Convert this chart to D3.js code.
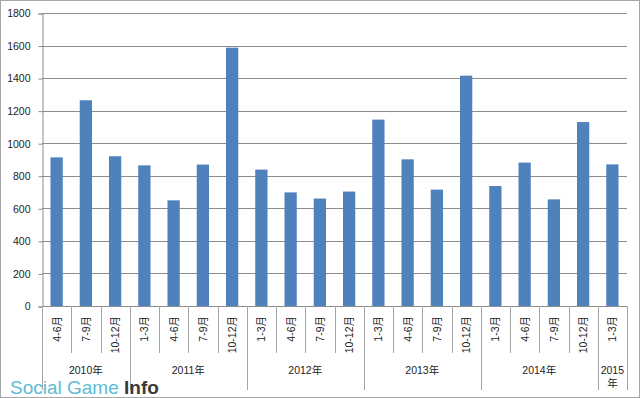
<!DOCTYPE html>
<html>
<head>
<meta charset="utf-8">
<script src="https://cdn.jsdelivr.net/npm/d3@7"></script>
<style>
  body { margin: 0; background: #fff; }
  text { font-family: "Liberation Sans", Arial, "Noto Sans CJK JP", sans-serif; fill: #222; }
</style>
</head>
<body>
<div id="chart"></div>
<script>
// quarterly values
var quarters = ["4-6月", "7-9月", "10-12月",
  "1-3月", "4-6月", "7-9月", "10-12月",
  "1-3月", "4-6月", "7-9月", "10-12月",
  "1-3月", "4-6月", "7-9月", "10-12月",
  "1-3月", "4-6月", "7-9月", "10-12月",
  "1-3月"];
var values = [913, 1264, 920, 864, 649, 869, 1587, 838, 698, 660, 703,
  1145, 901, 715, 1415, 737, 881, 655, 1130, 870];
var years = ["2010年", "2011年", "2012年", "2013年", "2014年", "2015年"];
var yearSpans = [3, 4, 4, 4, 4, 1];
var yTicks = [0, 200, 400, 600, 800, 1000, 1200, 1400, 1600, 1800];

var W = 640, H = 398;
var plot = { left: 42, right: 627, top: 13, bottom: 306 };

var svg = d3.select("#chart").append("svg")
  .attr("width", W)
  .attr("height", H);

// outer frame
svg.append("rect")
  .attr("x", 0.5).attr("y", 0.5)
  .attr("width", W - 1).attr("height", H - 1)
  .attr("fill", "#fff")
  .attr("stroke", "#a6a6a6");

var x = d3.scaleBand()
  .domain(d3.range(values.length))
  .range([plot.left, plot.right])
  .paddingInner(0.58)
  .paddingOuter(0.29);

var y = d3.scaleLinear()
  .domain([0, 1800])
  .range([plot.bottom, plot.top]);

var step = x.step();
var edge = i => plot.left + i * step; // left border of the i-th category

// gridlines
svg.append("g")
  .selectAll("line")
  .data(yTicks)
  .enter().append("line")
  .attr("x1", plot.left).attr("x2", plot.right)
  .attr("y1", d => Math.round(y(d)) + 0.5)
  .attr("y2", d => Math.round(y(d)) + 0.5)
  .attr("stroke", "#8c8c8c");

// left axis
var yAxis = d3.axisLeft(y)
  .tickValues(yTicks)
  .tickSize(4)
  .tickPadding(8)
  .tickFormat(d3.format("d"));

svg.append("g")
  .attr("transform", `translate(${plot.left + 0.5}, 0.5)`)
  .call(yAxis)
  .call(g => g.select(".domain").attr("stroke", "#8c8c8c"))
  .call(g => g.selectAll(".tick line").attr("stroke", "#8c8c8c"))
  .call(g => g.selectAll("text")
    .attr("font-size", "10.5px")
    .attr("fill", "#222")
    .attr("font-family", null));

// bars
svg.append("g")
  .selectAll("rect")
  .data(values)
  .enter().append("rect")
  .attr("x", (d, i) => x(i))
  .attr("y", d => y(d))
  .attr("width", x.bandwidth())
  .attr("height", d => y(0) - y(d))
  .attr("fill", "#4f81bd");

// category separators: short between quarters, long between years
var yearEnds = [0];
yearSpans.forEach((s, k) => yearEnds.push(yearEnds[k] + s));

var seps = d3.range(values.length + 1).map(i => ({
  i: i,
  long: yearEnds.indexOf(i) >= 0
}));

svg.append("g")
  .selectAll("line")
  .data(seps)
  .enter().append("line")
  .attr("x1", d => Math.round(edge(d.i)) + 0.5)
  .attr("x2", d => Math.round(edge(d.i)) + 0.5)
  .attr("y1", plot.bottom)
  .attr("y2", d => d.long ? 390 : 353)
  .attr("stroke", "#a6a6a6");

// quarter labels, rotated
svg.append("g")
  .selectAll("text")
  .data(quarters)
  .enter().append("text")
  .attr("transform", (d, i) => `translate(${x(i) + x.bandwidth() / 2 + 4}, 316) rotate(-90)`)
  .attr("text-anchor", "end")
  .attr("font-size", "10.5px")
  .text(d => d);

// year labels
var yearGroup = svg.append("g");
years.forEach(function(label, k) {
  var cx = (edge(yearEnds[k]) + edge(yearEnds[k + 1])) / 2;
  var t = yearGroup.append("text")
    .attr("text-anchor", "middle")
    .attr("font-size", "10.5px");
  if (yearSpans[k] == 1) {
    // narrow slot, the label wraps
    t.append("tspan").attr("x", cx).attr("y", 374).text(label.slice(0, 4));
    t.append("tspan").attr("x", cx).attr("y", 387).text(label.slice(4));
  } else {
    t.attr("x", cx).attr("y", 374).text(label);
  }
});

// logo
var logo = svg.append("text")
  .attr("x", 10)
  .attr("y", 394)
  .attr("font-size", "19px");
logo.append("tspan")
  .style("fill", "#5cbcd6")
  .text("Social Game ");
logo.append("tspan")
  .style("fill", "#3a3a3a")
  .attr("font-weight", "bold")
  .text("Info");
</script>
</body>
</html>
